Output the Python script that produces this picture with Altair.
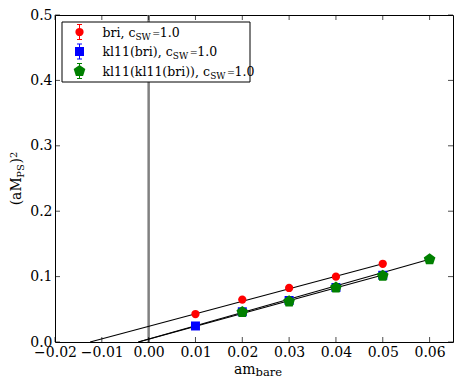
import altair as alt
import pandas as pd

FONT = "DejaVu Serif"
W, H = 398, 327

# ---------------- data ----------------
x_bri = [0.01, 0.02, 0.03, 0.04, 0.05]
y_bri = [0.0428, 0.0648, 0.0826, 0.0999, 0.1196]
x_kl = [0.01, 0.02, 0.03, 0.04, 0.05]
y_kl = [0.0245, 0.0462, 0.0635, 0.0833, 0.1020]
x_klkl = [0.02, 0.03, 0.04, 0.05, 0.06]
y_klkl = [0.0457, 0.0620, 0.0831, 0.1013, 0.1264]

fit_x0 = [-0.0125, -0.0022, -0.0022]
fit_y0 = [0.0, 0.0, 0.0]
fit_x1 = [0.05, 0.05, 0.06]
fit_y1 = [0.1196, 0.1025, 0.1264]

x_ticks = [-0.02, -0.01, 0.0, 0.01, 0.02, 0.03, 0.04, 0.05, 0.06]
y_ticks = [0.0, 0.1, 0.2, 0.3, 0.4, 0.5]
x_domain = [-0.02, 0.065]
y_domain = [0.0, 0.5]

legend_labels = ["bri, c", "kl11(bri), c", "kl11(kl11(bri)), c"]
legend_colors = ["red", "blue", "green"]
PENTAGON = "M0,-1L0.951,-0.309L0.588,0.809L-0.588,0.809L-0.951,-0.309Z"
legend_shapes = ["circle", "square", PENTAGON]
legend_sizes = [68, 81, 150]

# ---------------- helpers ----------------
EM = {" ": .318, "(": .390, ")": .390, ",": .318, ".": .318, "=": .838,
      "a": .596, "b": .640, "c": .560, "e": .592, "i": .320, "k": .617,
      "l": .320, "m": .948, "r": .478, "M": .995, "P": .733, "S": .685,
      "W": 1.028}
for d in "0123456789":
    EM[d] = .636


def tw(s, fs):
    return sum(EM.get(ch, .6) for ch in s) * fs


xs = alt.Scale(domain=x_domain, nice=False, zero=False)
ys = alt.Scale(domain=y_domain, nice=False, zero=False)
AXX = alt.Axis(values=x_ticks, format=".2f", title=None, ticks=False, domain=False,
               grid=False, labelFont=FONT, labelFontSize=14, labelColor="black",
               labelPadding=3, labelFlush=False, labelOverlap=False)
AXY = alt.Axis(values=y_ticks, format=".1f", title=None, ticks=False, domain=False,
               grid=False, labelFont=FONT, labelFontSize=14, labelColor="black",
               labelPadding=3, labelFlush=False, labelOverlap=False)


def X(f):
    return alt.X(f, type="quantitative", scale=xs, axis=AXX)


def Y(f):
    return alt.Y(f, type="quantitative", scale=ys, axis=AXY)


# ---------------- layers ----------------
zero_line = alt.Chart(pd.DataFrame({"x": [0.0]})).mark_rule(
    color="#808080", strokeWidth=2.5
).encode(x=X("x"))

fits = pd.DataFrame({"x0": fit_x0, "y0": fit_y0, "x1": fit_x1, "y1": fit_y1})
fit_layer = alt.Chart(fits).mark_rule(color="black", strokeWidth=1.1).encode(
    x=X("x0"), y=Y("y0"), x2="x1:Q", y2="y1:Q")


def pts(xv, yv, color, shape, size):
    df = pd.DataFrame({"x": xv, "y": yv})
    return alt.Chart(df).mark_point(
        filled=True, color=color, shape=shape, size=size, opacity=1, strokeWidth=0
    ).encode(x=X("x"), y=Y("y"))


red = pts(x_bri, y_bri, "red", "circle", 68)
blue = pts(x_kl, y_kl, "blue", "square", 81)
green = pts(x_klkl, y_klkl, "green", PENTAGON, 150)

TL = 5
xt = pd.DataFrame({"v": x_ticks})
yt = pd.DataFrame({"v": y_ticks})
tick_b = alt.Chart(xt).mark_tick(color="black", thickness=1, size=TL).encode(
    x=X("v"), y=alt.value(H - TL / 2))
tick_t = alt.Chart(xt).mark_tick(color="black", thickness=1, size=TL).encode(
    x=X("v"), y=alt.value(TL / 2))
tick_l = alt.Chart(yt).mark_tick(color="black", thickness=1, size=TL).encode(
    y=Y("v"), x=alt.value(TL / 2))
tick_r = alt.Chart(yt).mark_tick(color="black", thickness=1, size=TL).encode(
    y=Y("v"), x=alt.value(W - TL / 2))

# ---------------- legend ----------------
LX0, LX1, LY0, LY1 = 7, 195, 7, 67
row_y = [17, 36.5, 56]
MX, TX = 24.5, 47.5
FS, FSS = 12.5, 9

box = alt.Chart(pd.DataFrame({"a": [0]})).mark_rect(
    fill="white", stroke="black", strokeWidth=1
).encode(x=alt.value(LX0), x2=alt.value(LX1), y=alt.value(LY0), y2=alt.value(LY1))

leg = pd.DataFrame({"px": [MX] * 3, "py": row_y, "c": legend_colors,
                    "s": legend_shapes, "z": legend_sizes})
leg_err = alt.Chart(leg).mark_rule(strokeWidth=1).transform_calculate(
    e0="datum.py - 7.5", e1="datum.py + 7.5"
).encode(
    x=alt.X("px:Q", scale=None), y=alt.Y("e0:Q", scale=None),
    y2="e1:Q", color=alt.Color("c:N", scale=None))
caps = []
for off in (-7.5, 7.5):
    caps.append(alt.Chart(leg).mark_rule(strokeWidth=1).transform_calculate(
        c0="datum.px - 2.5", c1="datum.px + 2.5", cy=f"datum.py + ({off})"
    ).encode(x=alt.X("c0:Q", scale=None), x2="c1:Q",
             y=alt.Y("cy:Q", scale=None), color=alt.Color("c:N", scale=None)))
leg_pts = alt.Chart(leg).mark_point(filled=True, opacity=1, strokeWidth=0).encode(
    x=alt.X("px:Q", scale=None), y=alt.Y("py:Q", scale=None),
    color=alt.Color("c:N", scale=None), shape=alt.Shape("s:N", scale=None),
    size=alt.Size("z:Q", scale=None))

pieces = []
for lab, ry in zip(legend_labels, row_y):
    x0 = TX
    pieces.append((lab, x0, ry + 4.5, FS))
    x1 = x0 + tw(lab, FS)
    pieces.append(("SW", x1, ry + 7.5, FSS))
    x2 = x1 + tw("SW", FSS) + 1.5
    pieces.append(("=", x2, ry + 4.5, FS - 3))
    pieces.append(("1.0", x2 + 7.5, ry + 4.5, FS))

# x-axis title: am_bare
TW_X = tw("am", 14) + tw("bare", 11.5)
AX = W / 2 - TW_X / 2 + 4
pieces.append(("am", AX, H + 31.5, 14))
pieces.append(("bare", AX + tw("am", 14), H + 33.5, 11.5))

hp = pd.DataFrame(pieces, columns=["t", "px", "py", "fs"])
htext = alt.Chart(hp).mark_text(
    align="left", baseline="alphabetic", font=FONT, color="black"
).encode(x=alt.X("px:Q", scale=None), y=alt.Y("py:Q", scale=None),
         size=alt.Size("fs:Q", scale=None), text="t:N")

# y-axis title: (aM_PS)^2, rotated
YB = -34
FSY, FSYS = 14, 10
total = tw("(aM", FSY) + tw("PS", FSYS) + tw(")", FSY) + tw("2", FSYS)
y0 = H / 2 + total / 2
vp = []
vp.append(("(aM", YB, y0, FSY))
y1 = y0 - tw("(aM", FSY)
vp.append(("PS", YB + 3, y1, FSYS))
y2 = y1 - tw("PS", FSYS)
vp.append((")", YB, y2, FSY))
y3 = y2 - tw(")", FSY)
vp.append(("2", YB - 4.5, y3, FSYS))
vdf = pd.DataFrame(vp, columns=["t", "px", "py", "fs"])
vtext = alt.Chart(vdf).mark_text(
    align="left", baseline="alphabetic", font=FONT, color="black", angle=270
).encode(x=alt.X("px:Q", scale=None), y=alt.Y("py:Q", scale=None),
         size=alt.Size("fs:Q", scale=None), text="t:N")

chart = alt.layer(
    zero_line, fit_layer, blue, red, green,
    tick_b, tick_t, tick_l, tick_r,
    box, leg_err, *caps, leg_pts, htext, vtext
).properties(
    width=W, height=H,
    padding={"left": 47, "top": 7, "right": 2, "bottom": 37},
    autosize=alt.AutoSizeParams(type="none"),
    background="white",
).configure_view(stroke="black", strokeWidth=1)

chart.save("out.html", embed_options={"renderer": "svg", "actions": False})
